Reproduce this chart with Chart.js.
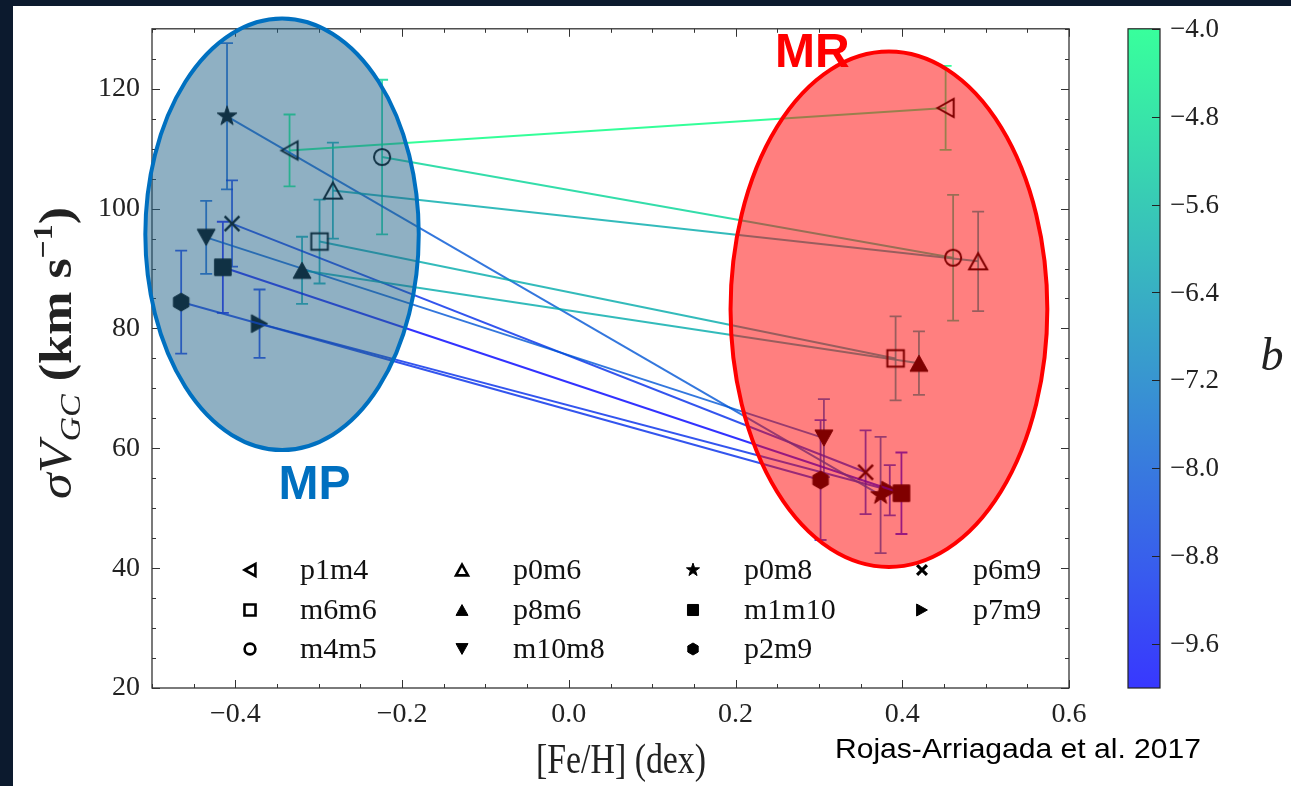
<!DOCTYPE html>
<html>
<head>
<meta charset="utf-8">
<script src="https://cdn.jsdelivr.net/npm/chart.js@4.4.1/dist/chart.umd.min.js"></script>
<style>
  html, body { margin: 0; padding: 0; background: #0c1a2e; overflow: hidden; }
  canvas { display: block; }
</style>
</head>
<body>
<canvas id="chart" width="1291" height="786"></canvas>
<script>
// Bulge fields, in legend order (4 columns, filled column by column)
const fieldNames = ['p1m4', 'm6m6', 'm4m5', 'p0m6', 'p8m6', 'm10m8', 'p0m8', 'm1m10', 'p2m9', 'p6m9', 'p7m9'];
// Galactic latitude b of each field (drives the colour)
const latitudeB = [-4, -6, -5, -6, -6, -8, -8, -10, -9, -9, -9];
// Metal-poor component: [Fe/H], velocity dispersion and its error
const feHPoor = [-0.335, -0.299, -0.224, -0.283, -0.320, -0.435, -0.410, -0.415, -0.465, -0.404, -0.371];
const sigmaPoor = [109.7, 94.5, 108.6, 103.0, 89.7, 95.2, 115.4, 90.2, 84.4, 97.5, 80.8];
const errPoor = [6.0, 7.0, 12.9, 8.0, 5.6, 6.1, 12.2, 7.6, 8.6, 7.2, 5.7];
// Metal-rich component
const feHRich = [0.452, 0.392, 0.461, 0.491, 0.420, 0.306, 0.374, 0.399, 0.302, 0.356, 0.385];
const sigmaRich = [116.8, 75.0, 91.8, 91.2, 74.2, 61.7, 52.2, 52.5, 54.7, 56.0, 53.0];
const errRich = [7.0, 7.0, 10.5, 8.3, 5.3, 6.5, 9.7, 6.8, 10.0, 7.0, 4.2];

// Axis ticks
const xTickValues = [-0.4, -0.2, 0.0, 0.2, 0.4, 0.6];
const yTickValues = [20, 40, 60, 80, 100, 120];
const bTickValues = [-4.0, -4.8, -5.6, -6.4, -7.2, -8.0, -8.8, -9.6];
const bRange = [-10, -4];

// Marker shape per field
const markerStyles = {
  p1m4: { kind: 'triL', filled: false },
  m6m6: { kind: 'square', filled: false },
  m4m5: { kind: 'circle', filled: false },
  p0m6: { kind: 'triU', filled: false },
  p8m6: { kind: 'triU', filled: true },
  m10m8: { kind: 'triD', filled: true },
  p0m8: { kind: 'star', filled: true },
  m1m10: { kind: 'square', filled: true },
  p2m9: { kind: 'hex', filled: true },
  p6m9: { kind: 'cross', filled: false },
  p7m9: { kind: 'triR', filled: true }
};

// Highlighted populations (ellipses in data units)
const regions = [
  { name: 'MP', cx: -0.344, cy: 95.7, rx: 0.164, ry: 36.0, fill: 'rgba(31,97,135,0.5)', stroke: '#0070c0',
    labelX: -0.305, labelY: 51.6 },
  { name: 'MR', cx: 0.384, cy: 83.2, rx: 0.190, ry: 43.0, fill: 'rgba(255,0,0,0.5)', stroke: '#ff0000',
    labelX: 0.292, labelY: 123.7 }
];

const SERIF = '"Liberation Serif", "DejaVu Serif", serif';

// matplotlib "winter" colormap
function winterRGB(b) {
  const t = Math.max(0, Math.min(1, (b - bRange[0]) / (bRange[1] - bRange[0])));
  return [0, Math.round(255 * t), Math.round(255 * (1 - 0.5 * t))];
}
function winter(b, alpha) {
  const c = winterRGB(b);
  return `rgba(${c[0]},${c[1]},${c[2]},${alpha})`;
}

function tracePath(g, kind, r) {
  g.beginPath();
  const poly = pts => {
    g.moveTo(pts[0][0], pts[0][1]);
    for (let k = 1; k < pts.length; k++) g.lineTo(pts[k][0], pts[k][1]);
    g.closePath();
  };
  const h = r * 0.9;
  switch (kind) {
    case 'triU': poly([[0, -h], [r, h], [-r, h]]); break;
    case 'triD': poly([[0, h], [r, -h], [-r, -h]]); break;
    case 'triL': poly([[-h, 0], [h, -r], [h, r]]); break;
    case 'triR': poly([[h, 0], [-h, -r], [-h, r]]); break;
    case 'square': g.rect(-r * 0.92, -r * 0.92, 1.84 * r, 1.84 * r); break;
    case 'circle': g.arc(0, 0, r * 0.9, 0, Math.PI * 2); break;
    case 'star': {
      const pts = [];
      for (let k = 0; k < 10; k++) {
        const a = -Math.PI / 2 + k * Math.PI / 5;
        const rr = k % 2 ? r * 0.45 : r * 1.15;
        pts.push([rr * Math.cos(a), rr * Math.sin(a)]);
      }
      poly(pts);
      break;
    }
    case 'hex': {
      const pts = [];
      for (let k = 0; k < 6; k++) {
        const a = -Math.PI / 2 + k * Math.PI / 3;
        pts.push([r * Math.cos(a), r * Math.sin(a)]);
      }
      poly(pts);
      break;
    }
    case 'cross': {
      const d = r * 0.82;
      g.moveTo(-d, -d); g.lineTo(d, d);
      g.moveTo(d, -d); g.lineTo(-d, d);
      break;
    }
  }
}

function paintMarker(g, style, r, lw) {
  tracePath(g, style.kind, r);
  g.strokeStyle = '#000';
  g.fillStyle = '#000';
  if (style.kind === 'cross') { g.lineWidth = lw + 0.5; g.stroke(); }
  else if (style.filled) { g.fill(); g.lineWidth = 1; g.stroke(); }
  else { g.lineWidth = lw; g.stroke(); }
}

function markerCanvas(style, r) {
  const size = 2 * Math.ceil(r * 1.3 + 3);
  const c = document.createElement('canvas');
  c.width = c.height = size;
  const g = c.getContext('2d');
  g.translate(size / 2, size / 2);
  paintMarker(g, style, r, 2);
  return c;
}

const fmt = (v, d) => v.toFixed(d).replace('-', '\u2212');

// draw a string squeezed/stretched to a given width
function fitText(ctx, text, x, y, width) {
  const w = ctx.measureText(text).width;
  ctx.save();
  ctx.translate(x, y);
  ctx.scale(width / w, 1);
  ctx.fillText(text, 0, 0);
  ctx.restore();
}

const datasets = fieldNames.map((name, i) => ({
  label: name,
  data: [{ x: feHPoor[i], y: sigmaPoor[i] }, { x: feHRich[i], y: sigmaRich[i] }],
  showLine: true,
  borderColor: winter(latitudeB[i], 0.8),
  borderWidth: 2,
  pointStyle: markerCanvas(markerStyles[name], 9),
  pointRadius: 9,
  pointHoverRadius: 9
}));

const overlayPlugin = {
  id: 'overlay',
  beforeDraw(chart) {
    const ctx = chart.ctx;
    ctx.save();
    ctx.fillStyle = '#0c1a2e';
    ctx.fillRect(0, 0, chart.width, chart.height);
    ctx.fillStyle = '#ffffff';
    ctx.fillRect(13, 6, chart.width - 13, chart.height - 6);
    ctx.restore();
  },
  beforeDatasetsDraw(chart) {
    // error bars of both components
    const ctx = chart.ctx, xs = chart.scales.x, ys = chart.scales.y;
    ctx.save();
    ctx.lineWidth = 1.8;
    const bar = (x, y, e, col) => {
      const px = xs.getPixelForValue(x);
      const top = ys.getPixelForValue(y + e), bot = ys.getPixelForValue(y - e);
      ctx.strokeStyle = col;
      ctx.beginPath();
      ctx.moveTo(px, top); ctx.lineTo(px, bot);
      ctx.moveTo(px - 6, top); ctx.lineTo(px + 6, top);
      ctx.moveTo(px - 6, bot); ctx.lineTo(px + 6, bot);
      ctx.stroke();
    };
    fieldNames.forEach((n, i) => {
      const col = winter(latitudeB[i], 0.8);
      bar(feHPoor[i], sigmaPoor[i], errPoor[i], col);
      bar(feHRich[i], sigmaRich[i], errRich[i], col);
    });
    ctx.restore();
  },
  afterDatasetsDraw(chart) {
    const ctx = chart.ctx, xs = chart.scales.x, ys = chart.scales.y, a = chart.chartArea;
    ctx.save();

    // frame with inward ticks on all four sides
    ctx.strokeStyle = '#333';
    ctx.lineWidth = 1.3;
    ctx.strokeRect(a.left, a.top, a.right - a.left, a.bottom - a.top);
    ctx.lineWidth = 1;
    ctx.beginPath();
    for (let k = -10; k <= 12; k++) {
      const v = k * 0.05;
      if (v < xs.min - 1e-9 || v > xs.max + 1e-9) continue;
      const major = xTickValues.some(t => Math.abs(t - v) < 1e-6);
      const len = major ? 8 : 4;
      const px = Math.round(xs.getPixelForValue(v)) + 0.5;
      ctx.moveTo(px, a.bottom); ctx.lineTo(px, a.bottom - len);
      ctx.moveTo(px, a.top); ctx.lineTo(px, a.top + len);
    }
    for (let v = ys.min; v <= ys.max + 1e-9; v += 5) {
      const major = yTickValues.includes(v);
      const len = major ? 8 : 4;
      const py = Math.round(ys.getPixelForValue(v)) + 0.5;
      ctx.moveTo(a.left, py); ctx.lineTo(a.left + len, py);
      ctx.moveTo(a.right, py); ctx.lineTo(a.right - len, py);
    }
    ctx.stroke();

    // legend: 3 rows x 4 columns inside the axes
    const colMarkerX = [250, 462, 693, 922];
    const colTextX = [300, 513, 744, 973];
    const rowY = [570, 610, 649];
    ctx.font = `30px ${SERIF}`;
    ctx.textBaseline = 'middle';
    ctx.textAlign = 'left';
    fieldNames.forEach((n, i) => {
      const col = Math.floor(i / 3), row = i % 3;
      ctx.save();
      ctx.translate(colMarkerX[col], rowY[row]);
      paintMarker(ctx, markerStyles[n], 6, 2.6);
      ctx.restore();
      ctx.fillStyle = '#111';
      ctx.fillText(n, colTextX[col], rowY[row] + 1);
    });

    // population ellipses
    regions.forEach(r => {
      const cx = xs.getPixelForValue(r.cx), cy = ys.getPixelForValue(r.cy);
      const rx = Math.abs(xs.getPixelForValue(r.cx + r.rx) - cx);
      const ry = Math.abs(ys.getPixelForValue(r.cy + r.ry) - cy);
      ctx.beginPath();
      ctx.ellipse(cx, cy, rx, ry, 0, 0, Math.PI * 2);
      ctx.fillStyle = r.fill;
      ctx.fill();
      ctx.lineWidth = 4;
      ctx.strokeStyle = r.stroke;
      ctx.stroke();
    });
    regions.forEach(r => {
      ctx.font = 'bold 48px "Liberation Sans", Arial, sans-serif';
      ctx.fillStyle = r.stroke;
      ctx.textAlign = 'center';
      ctx.textBaseline = 'alphabetic';
      ctx.fillText(r.name, xs.getPixelForValue(r.labelX), ys.getPixelForValue(r.labelY));
    });

    // colour bar
    const cbL = 1128, cbR = 1160, cbT = a.top, cbB = a.bottom;
    const bToY = b => cbT + (bRange[1] - b) / (bRange[1] - bRange[0]) * (cbB - cbT);
    const grad = ctx.createLinearGradient(0, cbT, 0, cbB);
    const steps = 12;
    for (let k = 0; k <= steps; k++) {
      const b = bRange[1] - k / steps * (bRange[1] - bRange[0]);
      const c = winterRGB(b);
      const mix = ch => Math.round(ch * 0.78 + 255 * 0.22);
      grad.addColorStop(k / steps, `rgb(${mix(c[0])},${mix(c[1])},${mix(c[2])})`);
    }
    ctx.fillStyle = grad;
    ctx.fillRect(cbL, cbT, cbR - cbL, cbB - cbT);
    ctx.strokeStyle = '#222';
    ctx.lineWidth = 1.2;
    ctx.strokeRect(cbL, cbT, cbR - cbL, cbB - cbT);
    ctx.beginPath();
    bTickValues.forEach(b => {
      const py = Math.round(bToY(b)) + 0.5;
      ctx.moveTo(cbR, py); ctx.lineTo(cbR - 8, py);
    });
    ctx.stroke();
    ctx.font = `27px ${SERIF}`;
    ctx.fillStyle = '#222';
    ctx.textAlign = 'left';
    ctx.textBaseline = 'middle';
    bTickValues.forEach(b => ctx.fillText(fmt(b, 1), 1170, bToY(b) + 1));
    ctx.font = `italic 46px ${SERIF}`;
    ctx.textAlign = 'center';
    ctx.textBaseline = 'alphabetic';
    ctx.fillText('b', 1272, 370);

    // axis titles
    ctx.fillStyle = '#222';
    ctx.font = `42px ${SERIF}`;
    ctx.textAlign = 'left';
    ctx.textBaseline = 'alphabetic';
    fitText(ctx, '[Fe/H] (dex)', 536, 773, 170);

    const parts = [
      { t: '\u03c3V', f: `italic 46px ${SERIF}`, dy: 0 },
      { t: 'GC', f: `italic 30px ${SERIF}`, dy: 9 },
      { t: ' (km s', f: `bold 46px ${SERIF}`, dy: 0 },
      { t: '\u22121', f: `bold 28px ${SERIF}`, dy: -19 },
      { t: ')', f: `bold 46px ${SERIF}`, dy: 0 }
    ];
    let total = 0;
    parts.forEach(p => { ctx.font = p.f; p.w = ctx.measureText(p.t).width; total += p.w; });
    const stretch = 292 / total;
    ctx.save();
    ctx.translate(71, 353);
    ctx.rotate(-Math.PI / 2);
    ctx.scale(stretch, 1);
    ctx.textAlign = 'left';
    let cx = -total / 2;
    parts.forEach(p => { ctx.font = p.f; ctx.fillText(p.t, cx, p.dy); cx += p.w; });
    ctx.restore();

    // source credit
    ctx.font = '28px "Liberation Sans Narrow", "Liberation Sans", sans-serif';
    ctx.fillStyle = '#000';
    ctx.textAlign = 'left';
    fitText(ctx, 'Rojas-Arriagada et al. 2017', 835, 758, 366);

    ctx.restore();
  }
};

new Chart(document.getElementById('chart'), {
  type: 'scatter',
  data: { datasets },
  options: {
    responsive: false,
    devicePixelRatio: 1,
    animation: false,
    layout: { padding: { left: 0, top: 28, right: 222, bottom: 0 } },
    plugins: { legend: { display: false }, tooltip: { enabled: false } },
    scales: {
      x: {
        type: 'linear', min: -0.5, max: 0.6,
        afterBuildTicks: s => { s.ticks = xTickValues.map(v => ({ value: v })); },
        afterFit: s => { s.height = 98; },
        grid: { display: false, drawTicks: false },
        border: { display: false },
        ticks: { callback: v => fmt(v, 1), font: { family: SERIF, size: 28 }, color: '#222', padding: 10, maxRotation: 0, autoSkip: false }
      },
      y: {
        type: 'linear', min: 20, max: 130,
        afterBuildTicks: s => { s.ticks = yTickValues.map(v => ({ value: v })); },
        afterFit: s => { s.width = 152; },
        grid: { display: false, drawTicks: false },
        border: { display: false },
        ticks: { callback: v => fmt(v, 0), font: { family: SERIF, size: 28 }, color: '#222', padding: 12, autoSkip: false }
      }
    }
  },
  plugins: [overlayPlugin]
});
</script>
</body>
</html>
